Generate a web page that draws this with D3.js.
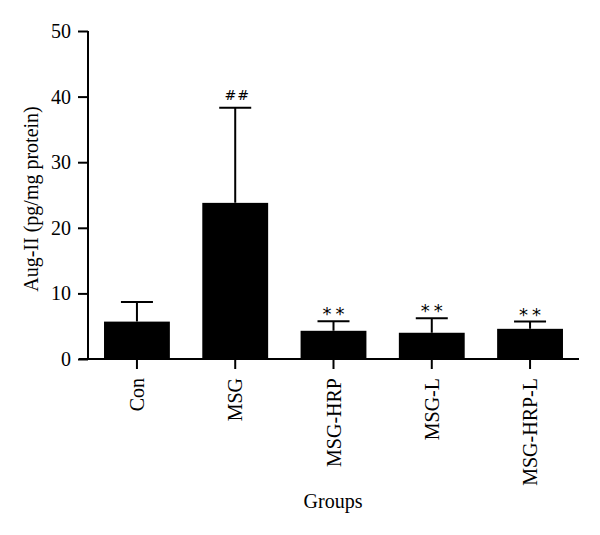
<!DOCTYPE html>
<html>
<head>
<meta charset="utf-8">
<script src="https://cdn.jsdelivr.net/npm/d3@7"></script>
<style>
  body { margin: 0; background: #fff; }
  svg { display: block; }
  text { font-family: "Liberation Serif", "Times New Roman", serif; fill: #000; }
</style>
</head>
<body>
<svg id="chart" width="600" height="535"></svg>
<script>
// Data
const groups = ["Con", "MSG", "MSG-HRP", "MSG-L", "MSG-HRP-L"]
const means = [5.7, 23.8, 4.3, 4.0, 4.6]
const errors = [3.0, 14.5, 1.45, 2.2, 1.1]
const marks = ["", "##", "**", "**", "**"]
const yTicks = [0, 10, 20, 30, 40, 50]

const margin = { left: 88, top: 31, right: 21, bottom: 176 }
const width = 600 - margin.left - margin.right
const height = 535 - margin.top - margin.bottom

const svg = d3.select("#chart")
const g = svg.append("g").attr("transform", `translate(${margin.left},${margin.top})`)

const x = d3.scaleBand()
    .domain(groups)
    .range([0, width])
    .paddingInner(0.33)
    .paddingOuter(0.163)

const y = d3.scaleLinear()
    .domain([0, 50])
    .range([height, 0])

// bars
g.selectAll(".bar")
    .data(groups)
    .enter().append("rect")
    .attr("x", d => x(d))
    .attr("y", (d, i) => y(means[i]))
    .attr("width", x.bandwidth())
    .attr("height", (d, i) => height - y(means[i]))
    .attr("fill", "#000")

// error bars (upper only)
const capHalf = 16
g.selectAll(".err")
    .data(groups)
    .enter().append("path")
    .attr("d", (d, i) => {
        const cx = x(d) + x.bandwidth() / 2
        const top = y(means[i] + errors[i])
        return `M${cx},${y(means[i])}V${top}M${cx - capHalf},${top}H${cx + capHalf}`
    })
    .attr("stroke", "#000")
    .attr("stroke-width", 2)
    .attr("fill", "none")

// significance marks
g.selectAll(".mark")
    .data(groups)
    .enter().append("text")
    .attr("x", d => x(d) + x.bandwidth() / 2 + 2)
    .attr("y", (d, i) => y(means[i] + errors[i]) - (marks[i] == "**" ? 1 : 8))
    .attr("text-anchor", "middle")
    .style("font-family", "'DejaVu Sans', sans-serif")
    .style("font-size", (d, i) => marks[i] == "**" ? "18px" : "14px")
    .style("letter-spacing", (d, i) => marks[i] == "**" ? "4px" : "1px")
    .text((d, i) => marks[i])

// y axis
const yAxis = g.append("g")
    .call(d3.axisLeft(y).tickValues(yTicks).tickSize(10).tickPadding(7))
yAxis.select(".domain").attr("stroke-width", 2).attr("d", `M0,${height}V0`)
yAxis.selectAll(".tick line").attr("stroke-width", 2)
yAxis.selectAll("text").style("font-size", "20px")

// x axis
const xAxis = g.append("g")
    .attr("transform", `translate(0,${height})`)
    .call(d3.axisBottom(x).tickSize(10).tickPadding(0))
xAxis.select(".domain").attr("stroke-width", 2).attr("d", `M-9,0H${width}`)
xAxis.selectAll(".tick line").attr("stroke-width", 2)
xAxis.selectAll("text")
    .style("font-size", "20px")
    .attr("transform", "rotate(-90)")
    .attr("text-anchor", "end")
    .attr("x", -19)
    .attr("y", 0)
    .attr("dy", "0.35em")

// axis titles
svg.append("text")
    .attr("transform", `translate(38,${margin.top + height / 2 + 4}) rotate(-90)`)
    .attr("text-anchor", "middle")
    .style("font-size", "20px")
    .text("Aug-II (pg/mg protein)")

svg.append("text")
    .attr("x", 333)
    .attr("y", 508)
    .attr("text-anchor", "middle")
    .style("font-size", "20px")
    .text("Groups")
</script>
</body>
</html>
